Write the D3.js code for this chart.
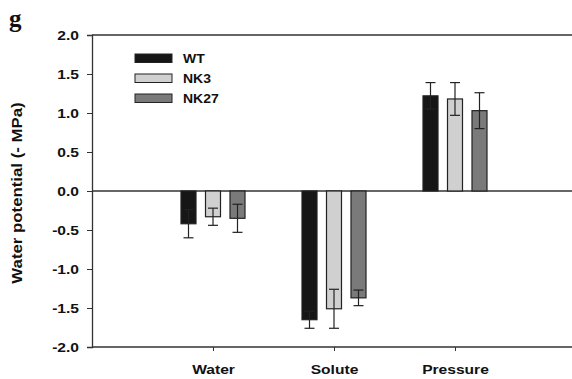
<!DOCTYPE html>
<html>
<head>
<meta charset="utf-8">
<script src="https://cdn.jsdelivr.net/npm/d3@7"></script>
<style>
  body { margin: 0; background: #fff; }
  text { font-family: Arial, "Liberation Sans", sans-serif; font-weight: bold; }
</style>
</head>
<body>
<div id="chart"></div>
<script>
var categories = ['Water', 'Solute', 'Pressure'];
var series = ['WT', 'NK3', 'NK27'];
var series_colors = ['#161616', '#d0d0d0', '#7a7a7a'];
// mean values per series, in category order
var values = {
  'WT':   [-0.42, -1.65, 1.22],
  'NK3':  [-0.33, -1.51, 1.18],
  'NK27': [-0.35, -1.37, 1.03]
};
var errors = {
  'WT':   [0.18, 0.11, 0.17],
  'NK3':  [0.11, 0.25, 0.21],
  'NK27': [0.18, 0.10, 0.23]
};
var y_ticks = [2.0, 1.5, 1.0, 0.5, 0.0, -0.5, -1.0, -1.5, -2.0];

var width = 572, height = 379;
var margin = {top: 35, left: 92, bottom: 347};
var stretch = 1.2; // the text in the original is wide

var svg = d3.select('#chart').append('svg')
    .attr('width', width)
    .attr('height', height);

var x = d3.scaleLinear().domain([0, 4]).range([margin.left, 576]);
var y = d3.scaleLinear().domain([-2, 2]).range([margin.bottom, margin.top]);
var offset = d3.scalePoint().domain(series).range([-24.5, 24.5]);
var bar_w = 15;

// frame top line
svg.append('line')
    .attr('x1', margin.left).attr('x2', width)
    .attr('y1', y(2)).attr('y2', y(2))
    .attr('stroke', '#333').attr('stroke-width', 1.3);

// zero line
svg.append('line')
    .attr('x1', margin.left).attr('x2', width)
    .attr('y1', y(0)).attr('y2', y(0))
    .attr('stroke', '#333').attr('stroke-width', 1.3);

// y axis
var left_axis = svg.append('g')
    .attr('transform', 'translate(' + margin.left + ',0)')
    .call(d3.axisLeft(y).tickValues(y_ticks).tickSize(5).tickPadding(8));
left_axis.select('.domain').attr('stroke', '#333').attr('stroke-width', 1.3);
left_axis.selectAll('.tick line').attr('stroke', '#333');
left_axis.selectAll('.tick text')
    .attr('x', null).attr('dy', null)
    .attr('transform', 'translate(-13,4.5) scale(' + stretch + ',1)')
    .attr('text-anchor', 'end')
    .style('font-size', '13px').attr('fill', '#111')
    .text(function(d) { return d3.format('.1f')(d).replace('−', '-'); });

// x axis
var bottom_axis = svg.append('g')
    .attr('transform', 'translate(0,' + margin.bottom + ')')
    .call(d3.axisBottom(x).tickValues([1, 2, 3]).tickSize(4)
          .tickFormat(function(d) { return categories[d - 1]; }));
bottom_axis.select('.domain').remove();
bottom_axis.append('line')
    .attr('x1', margin.left).attr('x2', width)
    .attr('stroke', '#333').attr('stroke-width', 1.3);
bottom_axis.selectAll('.tick line').attr('stroke', '#333');
bottom_axis.selectAll('.tick text')
    .attr('y', null).attr('dy', null)
    .attr('transform', 'translate(0,27) scale(' + stretch + ',1)')
    .style('font-size', '13px').attr('fill', '#111');

// bars
series.forEach(function(s, si) {
  var g = svg.append('g');
  categories.forEach(function(c, ci) {
    var v = values[s][ci];
    var cx = x(ci + 1) + offset(s);
    g.append('rect')
        .attr('x', cx - bar_w / 2)
        .attr('y', Math.min(y(v), y(0)))
        .attr('width', bar_w)
        .attr('height', Math.abs(y(v) - y(0)))
        .attr('fill', series_colors[si])
        .attr('stroke', '#222')
        .attr('stroke-width', 1.2);
    var e = errors[s][ci];
    g.append('line')
        .attr('x1', cx).attr('x2', cx)
        .attr('y1', y(v - e)).attr('y2', y(v + e))
        .attr('stroke', '#222').attr('stroke-width', 1.2);
    [v - e, v + e].forEach(function(ev) {
      g.append('line')
          .attr('x1', cx - 5).attr('x2', cx + 5)
          .attr('y1', y(ev)).attr('y2', y(ev))
          .attr('stroke', '#222').attr('stroke-width', 1.2);
    });
  });
});

// legend
var legend = svg.append('g').attr('transform', 'translate(135,54)');
series.forEach(function(s, i) {
  legend.append('rect')
      .attr('x', 0).attr('y', 20 * i)
      .attr('width', 37).attr('height', 8.5)
      .attr('fill', series_colors[i])
      .attr('stroke', '#222').attr('stroke-width', 1);
  legend.append('text')
      .attr('transform', 'translate(48,' + (20 * i + 9) + ') scale(1.12,1)')
      .style('font-size', '12.5px').attr('fill', '#111')
      .text(s);
});

// y label
svg.append('text')
    .attr('transform', 'translate(22,193) rotate(-90) scale(' + stretch + ',1)')
    .attr('text-anchor', 'middle')
    .style('font-size', '14px').attr('fill', '#111')
    .text('Water potential (- MPa)');

// panel letter
svg.append('text')
    .attr('x', 9).attr('y', 27)
    .style('font-family', '"Liberation Serif", "DejaVu Serif", serif')
    .style('font-size', '25px').attr('fill', '#111')
    .text('g');
</script>
</body>
</html>
